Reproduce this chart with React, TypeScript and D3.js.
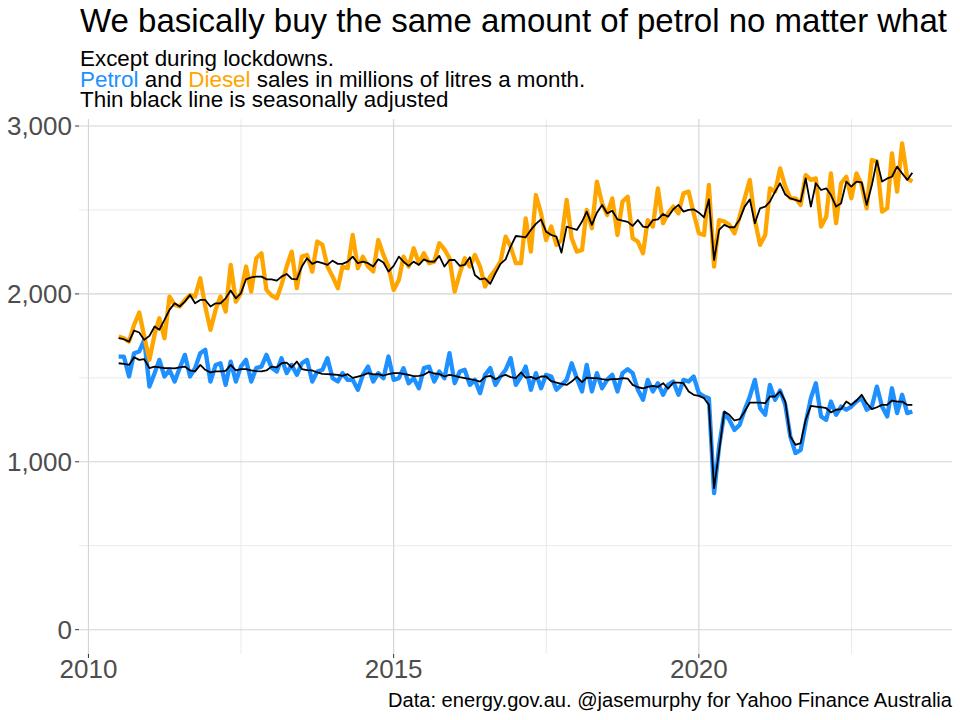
import React from "react";
import * as d3 from "d3";

// Monthly series start July 2010 (month index 6, 0-based)
const START_YEAR = 2010;
const START_MONTH = 6;

const diesel = [
  1746, 1736, 1716, 1815, 1889, 1746, 1607, 1760, 1855, 1736, 1984, 1935, 1925, 1964, 1994, 1984,
  2093, 1925, 1786, 1905, 1984, 1895, 2173, 1954, 2004, 2163, 2014, 2212, 2242, 2024, 1990, 1974,
  2054, 2163, 2252, 2034, 2222, 2232, 2133, 2312, 2292, 2163, 2103, 2034, 2163, 2153, 2351, 2153,
  2222, 2163, 2133, 2321, 2232, 2163, 2024, 2083, 2222, 2163, 2272, 2183, 2242, 2183, 2192, 2302,
  2265, 2212, 2014, 2123, 2212, 2163, 2232, 2163, 2044, 2103, 2143, 2192, 2341, 2282, 2183, 2183,
  2450, 2252, 2589, 2480, 2321, 2401, 2292, 2321, 2560, 2331, 2252, 2262, 2500, 2391, 2669, 2540,
  2470, 2569, 2351, 2550, 2579, 2331, 2312, 2242, 2440, 2401, 2629, 2421, 2480, 2520, 2480, 2599,
  2609, 2480, 2361, 2351, 2649, 2163, 2440, 2431, 2411, 2361, 2460, 2569, 2679, 2440, 2292, 2351,
  2629, 2609, 2748, 2639, 2570, 2569, 2530, 2708, 2679, 2688, 2401, 2460, 2718, 2421, 2659, 2698,
  2569, 2718, 2649, 2510, 2798, 2788, 2490, 2510, 2837, 2609, 2897, 2688, 2669,
];

const petrol = [
  1627, 1627, 1508, 1647, 1657, 1726, 1448, 1528, 1607, 1508, 1548, 1478, 1558, 1637, 1508, 1558,
  1647, 1667, 1478, 1577, 1587, 1458, 1597, 1478, 1567, 1607, 1478, 1558, 1567, 1637, 1560, 1538,
  1617, 1528, 1577, 1518, 1587, 1607, 1478, 1538, 1548, 1617, 1498, 1478, 1528, 1488, 1488, 1429,
  1518, 1567, 1478, 1528, 1498, 1627, 1488, 1498, 1558, 1468, 1498, 1438, 1558, 1567, 1478, 1538,
  1498, 1647, 1468, 1538, 1548, 1458, 1488, 1409, 1518, 1558, 1458, 1508, 1548, 1617, 1458, 1508,
  1567, 1429, 1528, 1438, 1518, 1508, 1429, 1458, 1488, 1587, 1498, 1419, 1577, 1419, 1528, 1438,
  1488, 1518, 1419, 1528, 1552, 1528, 1429, 1369, 1488, 1419, 1468, 1399, 1458, 1478, 1399, 1488,
  1478, 1508, 1409, 1389, 1379, 813, 1091, 1290, 1250, 1190, 1220, 1310, 1389, 1488, 1320, 1280,
  1458, 1369, 1424, 1339, 1151, 1052, 1071, 1230, 1379, 1468, 1270, 1250, 1359, 1280, 1329, 1310,
  1329, 1359, 1379, 1310, 1329, 1448, 1329, 1270, 1438, 1290, 1399, 1290, 1300,
];

const dieselSA = [
  1736, 1730, 1716, 1782, 1770, 1726, 1750, 1806, 1786, 1845, 1905, 1944, 1925, 1954, 1994, 1944,
  1964, 1964, 1925, 1944, 1944, 1974, 2020, 1974, 2004, 2087, 2099, 2103, 2103, 2087, 2087, 2079,
  2103, 2119, 2089, 2087, 2163, 2212, 2179, 2192, 2183, 2173, 2198, 2179, 2179, 2192, 2222, 2183,
  2192, 2183, 2163, 2206, 2187, 2133, 2167, 2222, 2192, 2167, 2192, 2173, 2206, 2192, 2192, 2226,
  2163, 2202, 2202, 2167, 2173, 2218, 2113, 2087, 2093, 2060, 2123, 2179, 2206, 2282, 2345, 2341,
  2337, 2381, 2417, 2444, 2371, 2351, 2341, 2246, 2401, 2391, 2381, 2431, 2490, 2411, 2484, 2530,
  2480, 2495, 2444, 2436, 2429, 2405, 2440, 2401, 2397, 2440, 2444, 2476, 2460, 2504, 2530, 2490,
  2500, 2504, 2484, 2456, 2563, 2202, 2381, 2411, 2397, 2397, 2444, 2520, 2563, 2421, 2510, 2520,
  2550, 2609, 2659, 2592, 2569, 2560, 2550, 2688, 2520, 2659, 2619, 2629, 2589, 2520, 2540, 2669,
  2639, 2669, 2665, 2530, 2649, 2794, 2669, 2688, 2698, 2758, 2718, 2679, 2722,
];

const petrolSA = [
  1587, 1583, 1577, 1623, 1607, 1611, 1558, 1567, 1563, 1558, 1558, 1556, 1563, 1567, 1544, 1538,
  1577, 1548, 1532, 1538, 1538, 1542, 1577, 1544, 1552, 1552, 1544, 1540, 1538, 1544, 1567, 1563,
  1587, 1591, 1563, 1597, 1552, 1546, 1544, 1532, 1524, 1522, 1520, 1518, 1512, 1522, 1500, 1508,
  1516, 1528, 1520, 1522, 1514, 1522, 1528, 1528, 1524, 1518, 1510, 1512, 1518, 1536, 1526, 1523,
  1508, 1518, 1512, 1504, 1498, 1492, 1486, 1478, 1506, 1512, 1492, 1508, 1518, 1504, 1498, 1532,
  1502, 1506, 1494, 1508, 1508, 1480, 1472, 1464, 1458, 1478, 1506, 1474, 1502, 1498, 1498, 1492,
  1488, 1492, 1492, 1498, 1496, 1458, 1444, 1438, 1446, 1452, 1446, 1468, 1436, 1472, 1472, 1468,
  1419, 1399, 1393, 1379, 1339, 843, 1062, 1300, 1280, 1246, 1254, 1300, 1353, 1353, 1353, 1349,
  1389, 1389, 1419, 1359, 1151, 1101, 1111, 1250, 1333, 1329, 1325, 1319, 1294, 1310, 1314, 1359,
  1339, 1365, 1399, 1349, 1314, 1325, 1339, 1339, 1365, 1359, 1359, 1339, 1339,
];

const xTickYears = [2010, 2015, 2020];
const xMinorYears = [2012.5, 2017.5, 2022.5];
const yTicks = [0, 1000, 2000, 3000];
const yMinor = [500, 1500, 2500];

const PETROL_COLOR = "#1E90FF";
const DIESEL_COLOR = "#FFA500";
const FONT = "'Liberation Sans', Arial, Helvetica, sans-serif";

function yearToDate(y: number): Date {
  const yr = Math.floor(y);
  const frac = y - yr;
  const start = new Date(yr, 0, 1).getTime();
  const end = new Date(yr + 1, 0, 1).getTime();
  return new Date(start + frac * (end - start));
}

export default function App() {
  const W = 960;
  const H = 720;
  const left = 79;
  const right = 952;
  const top = 119;
  const bottom = 654;

  const dates = petrol.map((_, i) => new Date(START_YEAR, START_MONTH + i, 1));
  const t0 = dates[0].getTime();
  const t1 = dates[dates.length - 1].getTime();
  const span = t1 - t0;
  const x = d3
    .scaleTime()
    .domain([new Date(t0 - span * 0.05), new Date(t1 + span * 0.05)])
    .range([left, right]);

  const maxV = d3.max([...diesel, ...petrol, ...dieselSA, ...petrolSA]) as number;
  const y = d3
    .scaleLinear()
    .domain([-0.05 * maxV, maxV * 1.05])
    .range([bottom, top]);

  const line = d3
    .line<number>()
    .x((_, i) => x(dates[i]))
    .y((d) => y(d));

  const fmt = d3.format(",");

  return (
    <svg
      width={W}
      height={H}
      style={{ position: "absolute", left: 0, top: 0, background: "#fff" }}
      fontFamily={FONT}
    >
      <rect x={0} y={0} width={W} height={H} fill="#fff" />
      {/* minor grid */}
      {yMinor.map((v) => (
        <line key={"ym" + v} x1={left} x2={right} y1={y(v)} y2={y(v)} stroke="#e8e8e8" strokeWidth={0.9} />
      ))}
      {xMinorYears.map((v) => (
        <line
          key={"xm" + v}
          x1={x(yearToDate(v))}
          x2={x(yearToDate(v))}
          y1={top}
          y2={bottom}
          stroke="#e8e8e8"
          strokeWidth={0.9}
        />
      ))}
      {/* major grid */}
      {yTicks.map((v) => (
        <line key={"y" + v} x1={left} x2={right} y1={y(v)} y2={y(v)} stroke="#d4d4d4" strokeWidth={1.1} />
      ))}
      {xTickYears.map((v) => (
        <line
          key={"x" + v}
          x1={x(yearToDate(v))}
          x2={x(yearToDate(v))}
          y1={top}
          y2={bottom}
          stroke="#d4d4d4"
          strokeWidth={1.1}
        />
      ))}

      {/* raw series */}
      <path d={line(petrol) || ""} fill="none" stroke={PETROL_COLOR} strokeWidth={4.3} strokeLinejoin="round" />
      <path d={line(diesel) || ""} fill="none" stroke={DIESEL_COLOR} strokeWidth={4.3} strokeLinejoin="round" />
      {/* seasonally adjusted */}
      <path d={line(petrolSA) || ""} fill="none" stroke="#000" strokeWidth={1.8} strokeLinejoin="round" />
      <path d={line(dieselSA) || ""} fill="none" stroke="#000" strokeWidth={1.8} strokeLinejoin="round" />

      {/* y axis */}
      {yTicks.map((v) => (
        <g key={"yl" + v}>
          <line x1={left - 4} x2={left} y1={y(v)} y2={y(v)} stroke="#333" strokeWidth={1} />
          <text x={left - 7} y={y(v)} dy="0.36em" textAnchor="end" fontSize={26} fill="#4d4d4d">
            {fmt(v)}
          </text>
        </g>
      ))}
      {/* x axis */}
      {xTickYears.map((v) => (
        <g key={"xl" + v}>
          <line
            x1={x(yearToDate(v))}
            x2={x(yearToDate(v))}
            y1={bottom}
            y2={bottom + 4}
            stroke="#333"
            strokeWidth={1}
          />
          <text x={x(yearToDate(v))} y={bottom + 24} textAnchor="middle" fontSize={26} fill="#4d4d4d">
            {v}
          </text>
        </g>
      ))}

      {/* titles */}
      <text x={80} y={32} fontSize={33} fill="#000">
        We basically buy the same amount of petrol no matter what
      </text>
      <text x={80} y={66} fontSize={22.4} fill="#000">
        Except during lockdowns.
      </text>
      <text x={80} y={86.5} fontSize={22.4} fill="#000">
        <tspan fill={PETROL_COLOR}>Petrol</tspan>
        <tspan> and </tspan>
        <tspan fill={DIESEL_COLOR}>Diesel</tspan>
        <tspan> sales in millions of litres a month.</tspan>
      </text>
      <text x={80} y={107} fontSize={22.4} fill="#000">
        Thin black line is seasonally adjusted
      </text>
      <text x={952} y={707} fontSize={20.1} textAnchor="end" fill="#000">
        Data: energy.gov.au. @jasemurphy for Yahoo Finance Australia
      </text>
    </svg>
  );
}
